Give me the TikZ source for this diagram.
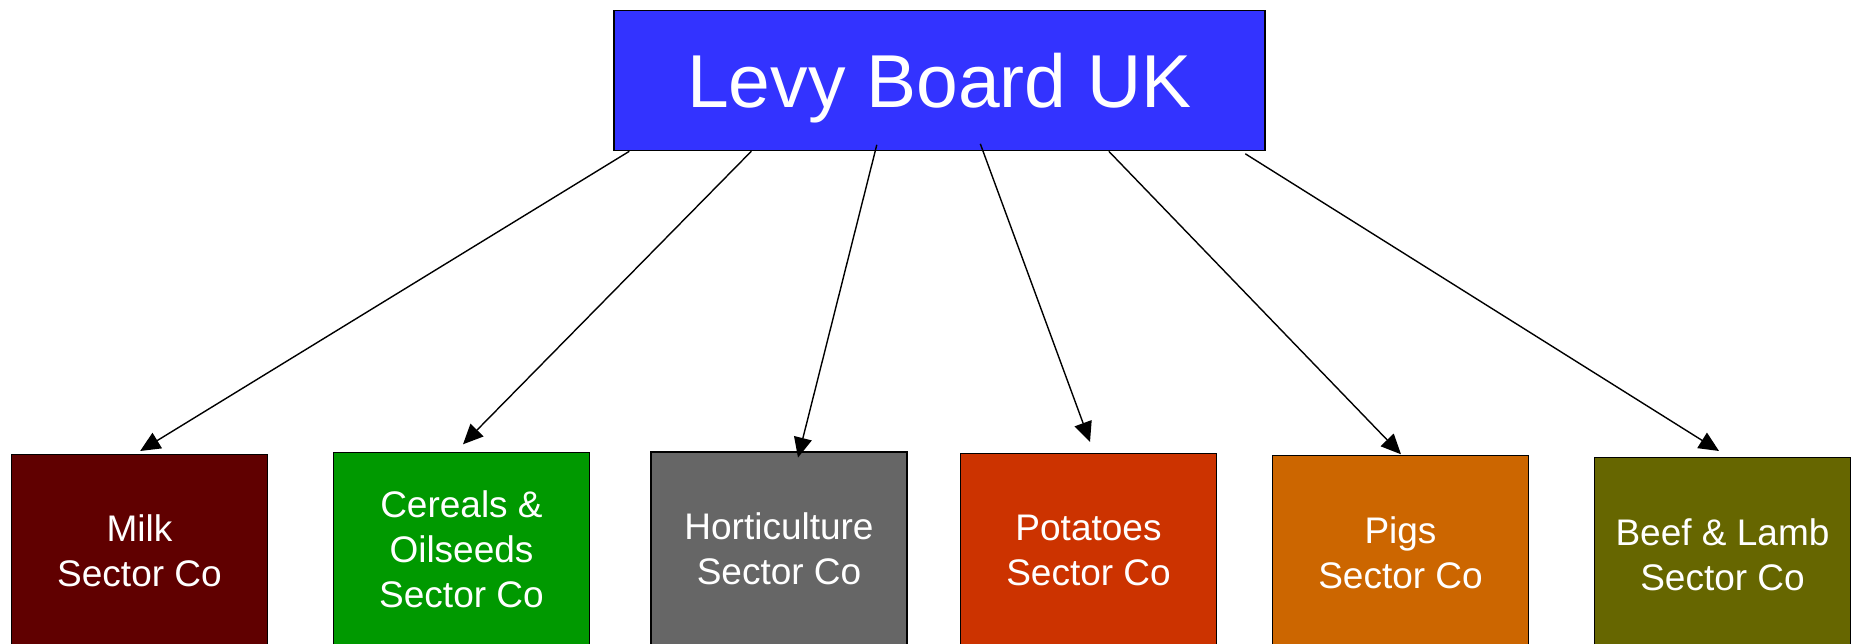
\documentclass[tikz,border=0pt]{standalone}
\usepackage{fontspec}
\setmainfont{Liberation Sans}
\usetikzlibrary{arrows.meta}

\definecolor{boardblue}{RGB}{51,51,255}
\definecolor{milkred}{RGB}{96,0,0}
\definecolor{cerealgreen}{RGB}{0,153,0}
\definecolor{hortgrey}{RGB}{102,102,102}
\definecolor{potatored}{RGB}{204,51,0}
\definecolor{pigorange}{RGB}{204,102,0}
\definecolor{beefolive}{RGB}{102,102,0}

\tikzset{
  board/.style={draw=black, line width=1.4pt, fill=boardblue, text=white,
    minimum width=651pt, minimum height=140pt, inner sep=0pt,
    text depth=0pt, font=\fontsize{75}{80}\selectfont},
  sector/.style={draw=black, line width=1.4pt, text=white, align=center,
    minimum width=256pt, minimum height=198pt, inner sep=0pt,
    text depth=5pt, font=\fontsize{37}{45}\selectfont},
  link/.style={draw=black, line width=1.4pt,
    -{Triangle[length=20pt, width=18pt]}}
}

\begin{document}
\begin{tikzpicture}[x=1pt, y=1pt]
  \useasboundingbox (0,0) rectangle (1858,643);
  \clip (0,0) rectangle (1858,643);
  \fill[white] (0,0) rectangle (1858,643);

  % parent organisation
  \node[board] (lb) at (939.5,562.4) {Levy Board UK};

  % sector companies
  \node[sector, fill=milkred]     (milk) at (139.5,89.7)  {Milk\\Sector Co};
  \node[sector, fill=cerealgreen] (cer)  at (461.5,91.3)  {Cereals \&\\Oilseeds\\Sector Co};
  \node[sector, fill=hortgrey]    (hort) at (779,92)      {Horticulture\\Sector Co};
  \node[sector, fill=potatored]   (pot)  at (1088.5,90.7) {Potatoes\\Sector Co};
  \node[sector, fill=pigorange]   (pigs) at (1400.5,88.3) {Pigs\\Sector Co};
  \node[sector, fill=beefolive]   (beef) at (1722.5,86.3) {Beef \& Lamb\\Sector Co};

  % connectors from the board to each sector company
  \draw[link] ([xshift=16pt]lb.south west)
           -- ([xshift=0.7pt, yshift=2.6pt]milk.north);
  \draw[link] ([xshift=138pt]lb.south west)
           -- ([xshift=1.5pt, yshift=7.7pt]cer.north);
  \draw[link] ([xshift=263.5pt, yshift=6.5pt]lb.south west)
           -- ([xshift=19pt, yshift=-6.3pt]hort.north);
  \draw[link] ([xshift=367pt, yshift=7.5pt]lb.south west)
           -- ([xshift=1.5pt, yshift=10.6pt]pot.north);
  \draw[link] ([xshift=495.5pt]lb.south west)
           -- ([xshift=0.5pt, yshift=0.7pt]pigs.north);
  \draw[link] ([xshift=632pt, yshift=-2.5pt]lb.south west)
           -- ([xshift=-3.5pt, yshift=6pt]beef.north);
\end{tikzpicture}
\end{document}
